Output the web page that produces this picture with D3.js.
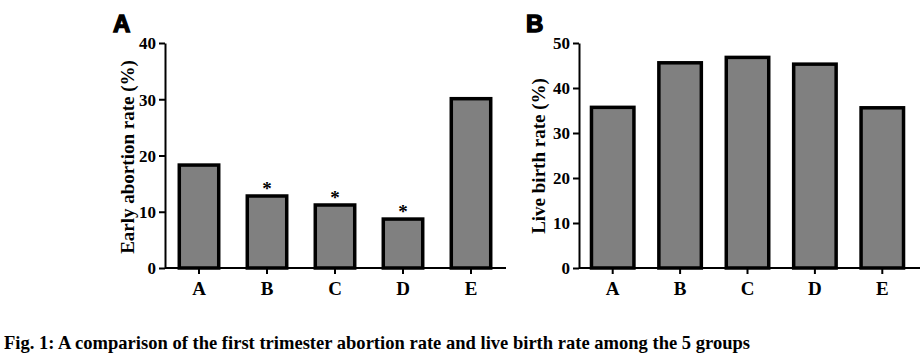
<!DOCTYPE html>
<html>
<head>
<meta charset="utf-8">
<script src="https://cdn.jsdelivr.net/npm/d3@7"></script>
<style>
  html, body { margin: 0; padding: 0; background: #fff; }
  svg { display: block; }
  text { font-weight: bold; fill: #000; }
</style>
</head>
<body>
<svg id="chart" width="920" height="357"></svg>
<script>
const categories = ["A", "B", "C", "D", "E"];
const earlyAbortion = [18.3, 12.8, 11.2, 8.7, 30.1];
const significance = ["", "*", "*", "*", ""];
const liveBirth = [35.7, 45.6, 46.8, 45.3, 35.6];
const ticksA = [0, 10, 20, 30, 40];
const ticksB = [0, 10, 20, 30, 40, 50];
const titleA = "Early abortion rate (%)";
const titleB = "Live birth rate (%)";
const caption = "Fig. 1: A comparison of the first trimester abortion rate and live birth rate among the 5 groups";

const SERIF = '"Liberation Serif", "Times New Roman", serif';
const SANS = '"Liberation Sans", Arial, sans-serif';
const svg = d3.select("#chart");

function panel(cfg) {
  const g = svg.append("g");
  const x = d3.scaleBand().domain(categories)
    .range([cfg.x0, cfg.x1]).paddingInner(cfg.pad).paddingOuter(cfg.pad / 2);
  const y = d3.scaleLinear().domain([0, cfg.max]).range([268, 43]);

  // bars
  g.selectAll("rect.bar").data(cfg.values).enter().append("rect")
    .attr("class", "bar")
    .attr("x", (d, i) => x(categories[i]))
    .attr("width", x.bandwidth())
    .attr("y", d => y(d))
    .attr("height", d => y(0) - y(d))
    .attr("fill", "#808080")
    .attr("stroke", "#000")
    .attr("stroke-width", 3.5);

  // significance markers
  if (cfg.marks) {
    g.selectAll("text.sig").data(cfg.values).enter().append("text")
      .attr("class", "sig")
      .attr("x", (d, i) => x(categories[i]) + x.bandwidth() / 2)
      .attr("y", d => y(d) - 1)
      .attr("text-anchor", "middle")
      .style("font-family", SERIF)
      .style("font-size", "19px")
      .text((d, i) => cfg.marks[i]);
  }

  // y axis
  const ya = g.append("g").attr("transform", `translate(${cfg.x0},0)`)
    .call(d3.axisLeft(y).tickValues(cfg.ticks).tickSize(6).tickSizeOuter(0).tickPadding(3));
  ya.select(".domain").attr("stroke-width", 2);
  ya.selectAll(".tick line").attr("stroke-width", 2);
  ya.selectAll(".tick text").style("font-size", "17px").style("font-family", SERIF).attr("dy", "0.34em");

  // x axis
  const xa = g.append("g").attr("transform", `translate(0,${y(0)})`)
    .call(d3.axisBottom(x).tickSize(6).tickSizeOuter(0).tickPadding(8));
  xa.select(".domain").remove();
  xa.append("line").attr("x1", cfg.x0).attr("x2", cfg.axisEnd)
    .attr("stroke", "#000").attr("stroke-width", 2);
  xa.selectAll(".tick line").attr("stroke-width", 2);
  xa.selectAll(".tick text").style("font-size", "19px").style("font-family", SERIF);

  // axis title
  g.append("text")
    .attr("transform", `translate(${cfg.titleX},${cfg.titleY}) rotate(-90)`)
    .attr("text-anchor", "middle")
    .style("font-family", SERIF)
    .style("font-size", "19px")
    .text(cfg.title);

  // panel label
  g.append("text")
    .attr("x", cfg.labelX).attr("y", 32)
    .style("font-family", SANS)
    .style("font-size", "24px")
    .attr("stroke", "#000").attr("stroke-width", 1.4)
    .text(cfg.label);
}

panel({ x0: 165, x1: 505, axisEnd: 506, pad: 0.42, max: 40, values: earlyAbortion, marks: significance,
        ticks: ticksA, title: titleA, titleX: 134, titleY: 157, label: "A", labelX: 113 });
panel({ x0: 579, x1: 916, axisEnd: 920, pad: 0.37, max: 50, values: liveBirth, marks: null,
        ticks: ticksB, title: titleB, titleX: 545, titleY: 156, label: "B", labelX: 526 });

svg.append("text")
  .attr("x", 4).attr("y", 349)
  .style("font-family", SERIF)
  .style("font-size", "19px")
  .attr("textLength", 746).attr("lengthAdjust", "spacingAndGlyphs")
  .text(caption);
</script>
</body>
</html>
